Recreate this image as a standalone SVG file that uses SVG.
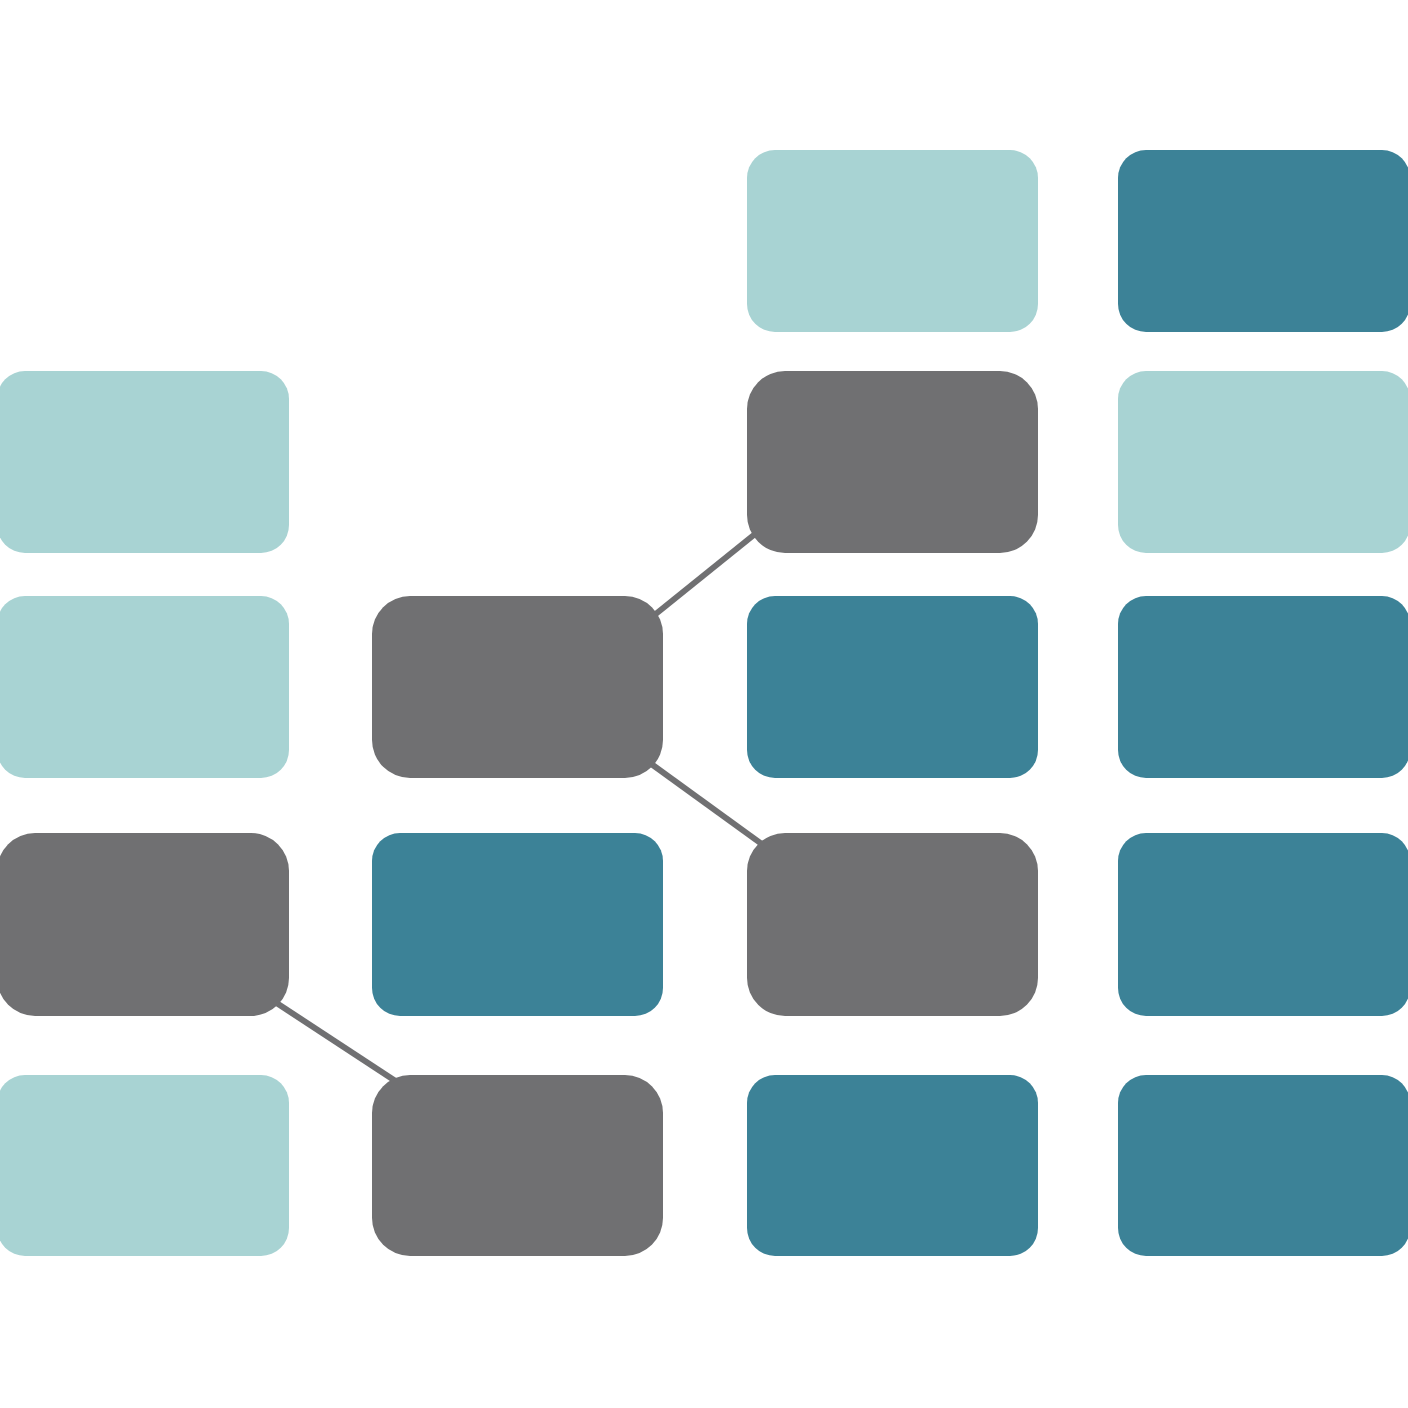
<svg xmlns="http://www.w3.org/2000/svg" width="1408" height="1408" viewBox="0 0 1408 1408">
<style>
.lt{fill:#A8D3D3}
.dk{fill:#3C8297}
.gr{fill:#707072}
.cn{stroke:#707072;stroke-width:6;fill:none;stroke-linecap:butt}
</style>
<rect width="1408" height="1408" fill="#ffffff"/>
<g id="connectors">
<line class="cn" x1="272" y1="1000" x2="400" y2="1084"/>
<line class="cn" x1="652" y1="617" x2="760" y2="530"/>
<line class="cn" x1="650" y1="763" x2="770" y2="850"/>
</g>
<g id="c1r2"><rect class="lt" x="-3" y="371" width="292" height="182" rx="28"/></g>
<g id="c1r3"><rect class="lt" x="-3" y="596" width="292" height="182" rx="28"/></g>
<g id="c1r4"><rect class="gr" x="-3" y="833" width="292" height="183" rx="38"/></g>
<g id="c1r5"><rect class="lt" x="-3" y="1075" width="292" height="181" rx="28"/></g>
<g id="c2r3"><rect class="gr" x="372" y="596" width="291" height="182" rx="38"/></g>
<g id="c2r4"><rect class="dk" x="372" y="833" width="291" height="183" rx="28"/></g>
<g id="c2r5"><rect class="gr" x="372" y="1075" width="291" height="181" rx="38"/></g>
<g id="c3r1"><rect class="lt" x="747" y="150" width="291" height="182" rx="28"/></g>
<g id="c3r2"><rect class="gr" x="747" y="371" width="291" height="182" rx="38"/></g>
<g id="c3r3"><rect class="dk" x="747" y="596" width="291" height="182" rx="28"/></g>
<g id="c3r4"><rect class="gr" x="747" y="833" width="291" height="183" rx="38"/></g>
<g id="c3r5"><rect class="dk" x="747" y="1075" width="291" height="181" rx="28"/></g>
<g id="c4r1"><rect class="dk" x="1118" y="150" width="292" height="182" rx="28"/></g>
<g id="c4r2"><rect class="lt" x="1118" y="371" width="292" height="182" rx="28"/></g>
<g id="c4r3"><rect class="dk" x="1118" y="596" width="292" height="182" rx="28"/></g>
<g id="c4r4"><rect class="dk" x="1118" y="833" width="292" height="183" rx="28"/></g>
<g id="c4r5"><rect class="dk" x="1118" y="1075" width="292" height="181" rx="28"/></g>
</svg>
